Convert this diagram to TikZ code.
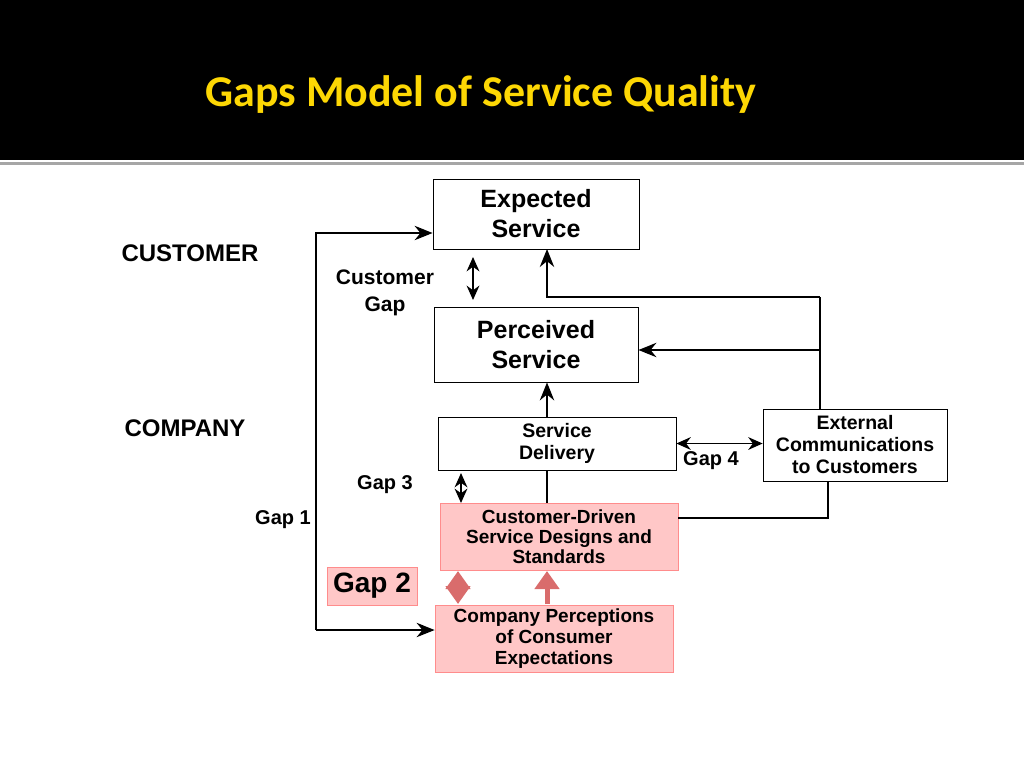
\documentclass[tikz,border=0pt]{standalone}
\usepackage{fontspec}
\setmainfont{Liberation Sans}
\newfontfamily\titlefont{Carlito}
\usetikzlibrary{arrows.meta}
\begin{document}
\begin{tikzpicture}[x=1pt,y=-1pt,
  box/.style={draw,line width=0.8pt,align=center,font=\bfseries,inner sep=0pt},
  pbox/.style={box,draw=red!45,fill=red!22,line width=0.8pt},
  lab/.style={font=\bfseries\fontsize{20}{22}\selectfont,align=center},
  con/.style={line width=1.5pt},
  arr/.style={con,-{Stealth[length=10pt,width=8pt,scale=1.8]}},
  darr/.style={con,{Stealth[length=9pt,width=8pt,scale=1.6]}-{Stealth[length=9pt,width=8pt,scale=1.6]}},
  parr/.style={line width=5pt,draw=red!50!white!85!black,-{Triangle[length=12pt,width=16pt,scale=1.5]}}]
\useasboundingbox (0,0) rectangle (1024,768);
\fill (0,0) rectangle (1024,160);
\fill[gray!70] (0,162) rectangle (1024,165);
\node[font=\titlefont\bfseries\fontsize{44}{50}\selectfont,text=yellow!75!orange] (title) at (481,95) {Gaps Model of Service Quality};
\node[box,minimum width=206,minimum height=70,font=\bfseries\fontsize{25}{30}\selectfont] (es) at (536,214) {Expected\\Service};
\node[box,minimum width=204,minimum height=75,font=\bfseries\fontsize{25}{30}\selectfont] (ps) at (536,344.5) {Perceived\\Service};
\node[box,minimum width=238,minimum height=53,font=\bfseries\fontsize{19.5}{22}\selectfont] (sd) at (557,443.5) {Service\\Delivery};
\node[box,minimum width=184,minimum height=72,font=\bfseries\fontsize{19.5}{22}\selectfont] (ec) at (855,445) {External\\Communications\\to Customers};
\node[pbox,minimum width=238,minimum height=67,font=\bfseries\fontsize{19}{20}\selectfont] (cd) at (559,536.5) {Customer-Driven\\Service Designs and\\Standards};
\node[pbox,minimum width=238,minimum height=67,font=\bfseries\fontsize{19}{21}\selectfont] (cp) at (554,638.5) {Company Perceptions\\of Consumer\\Expectations};
\node[pbox,minimum width=90,minimum height=38,font=\bfseries\fontsize{28}{30}\selectfont] (g2) at (372,586) {Gap 2};
\node[lab,font=\bfseries\fontsize{24}{26}\selectfont] (cust) at (190,253) {CUSTOMER};
\node[lab,font=\bfseries\fontsize{24}{26}\selectfont] (comp) at (185,428) {COMPANY};
\node[lab,font=\bfseries\fontsize{21}{27}\selectfont] (cg) at (385,293) {Customer\\Gap};
\node[lab] (g3) at (385,485) {Gap 3};
\node[lab] (g1) at (283,520) {Gap 1};
\node[lab] (g4) at (711,461) {Gap 4};
\coordinate (lt) at (316,233);
\coordinate (lb) at (316,630);
\draw[arr] (lb) -- (lt) -- (es.west|-lt);
\draw[arr] (lb) -- (cp.west|-lb);
\draw[darr] (473,257) -- (473,300);
\coordinate (ep) at (820,297);
\coordinate (em) at (820,350);
\draw[con] (ec.north-|ep) -- (ep);
\draw[arr] (ep) -- (547,297) -- (547,249);
\draw[arr] (em) -- (ps.east|-em);
\draw[arr] (sd.north-|547,0) -- (ps.south-|547,0);
\draw[darr] (sd.east) -- (ec.west|-sd.east);
\draw[darr] (461,473) -- (461,503);
\draw[con] (cd.north-|547,0) -- (sd.south-|547,0);
\coordinate (cr) at (828,518);
\draw[con] (cd.east|-cr) -- (cr) -- (ec.south-|cr);
\draw[parr,{Triangle[length=12pt,width=16pt,scale=1.5]}-{Triangle[length=12pt,width=16pt,scale=1.5]}] (458,571) -- (458,604);
\draw[parr] (547,604) -- (547,571);
\end{tikzpicture}
\end{document}
